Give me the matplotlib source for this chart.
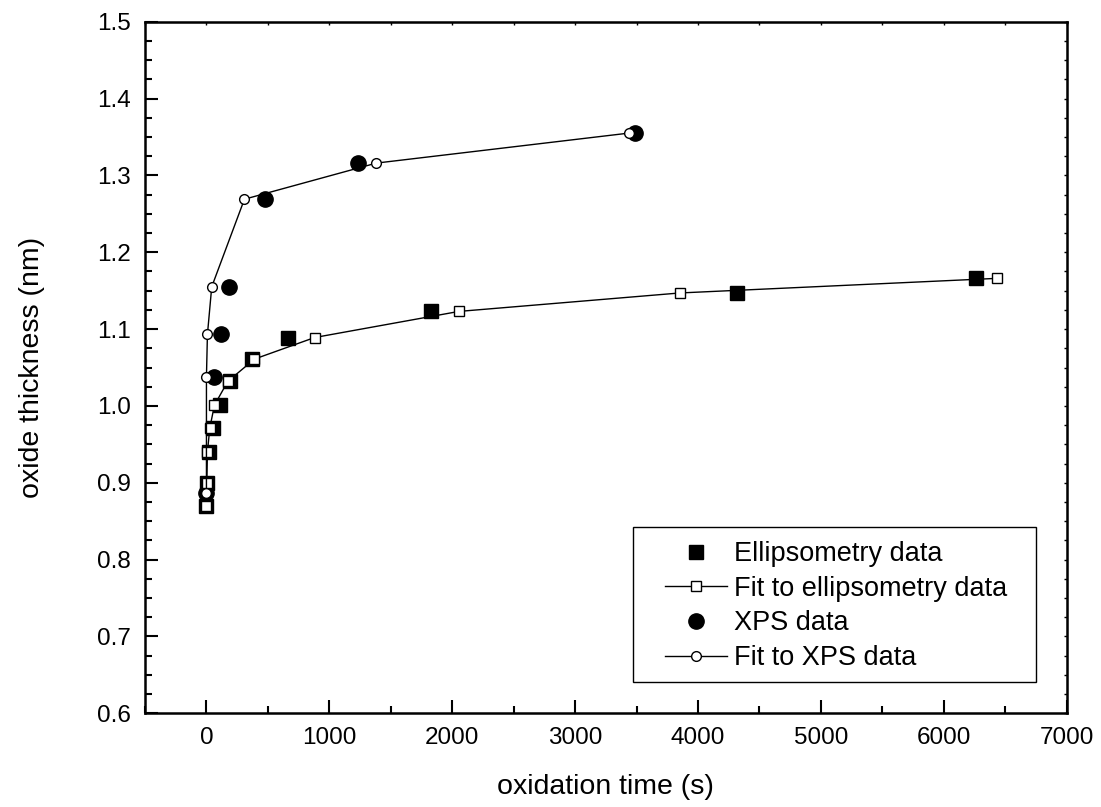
import numpy as np
import matplotlib
matplotlib.use("Agg")
from matplotlib import pyplot as plt
from matplotlib.ticker import MultipleLocator
from matplotlib.patches import Rectangle

plt.rcParams['font.family'] = ['Liberation Sans', 'DejaVu Sans']

# ellipsometry data and fit
ell_t = [0, 5, 19, 57, 111, 195, 372, 662, 1824, 4318, 6260]
ell_d = [0.870, 0.900, 0.940, 0.971, 1.001, 1.032, 1.061, 1.089, 1.123, 1.147, 1.166]
fit_ell_t = [0, 3, 8, 27, 65, 174, 391, 880, 2055, 3852, 6430]
fit_ell_d = [0.870, 0.900, 0.940, 0.971, 1.001, 1.032, 1.061, 1.089, 1.123, 1.147, 1.166]

# XPS data and fit
xps_t = [0, 65, 120, 182, 480, 1232, 3485]
xps_d = [0.887, 1.038, 1.093, 1.155, 1.269, 1.316, 1.355]
fit_xps_t = [0, 0, 8, 43, 309, 1382, 3436]
fit_xps_d = [0.887, 1.038, 1.093, 1.155, 1.269, 1.316, 1.355]

fig = plt.figure(figsize=(11.01, 8.07), dpi=100)
ax = fig.add_axes([0.1317, 0.1161, 0.9688 - 0.1317, 0.9731 - 0.1161])

ax.plot(ell_t, ell_d, ls='none', marker='s', ms=9.5, color='black',
        label='Ellipsometry data', zorder=3)
ax.plot(xps_t, xps_d, ls='none', marker='o', ms=11, color='black',
        label='XPS data', zorder=3)
ax.plot(fit_ell_t, fit_ell_d, '-', lw=1, color='black', marker='s', ms=6.5,
        mfc='white', mec='black', mew=1, label='Fit to ellipsometry data', zorder=4)
ax.plot(fit_xps_t, fit_xps_d, '-', lw=1, color='black', marker='o', ms=7,
        mfc='white', mec='black', mew=1, label='Fit to XPS data', zorder=4)

ax.set_xlim(-500, 7000)
ax.set_ylim(0.6, 1.5)
ax.xaxis.set_major_locator(MultipleLocator(1000))
ax.xaxis.set_minor_locator(MultipleLocator(500))
ax.yaxis.set_major_locator(MultipleLocator(0.1))
ax.yaxis.set_minor_locator(MultipleLocator(0.025))
ax.yaxis.set_major_formatter(plt.FormatStrFormatter('%.1f'))

for s in ax.spines.values():
    s.set_linewidth(1.8)
ax.tick_params(which='both', direction='in', width=1.5, labelsize=17.5,
               top=False, right=False, pad=10)
ax.tick_params(which='major', length=9.5)
ax.tick_params(which='minor', length=5)

# short ticks on top and right
top = ax.secondary_xaxis('top')
top.xaxis.set_major_locator(MultipleLocator(1000))
top.xaxis.set_minor_locator(MultipleLocator(500))
top.tick_params(which='both', direction='in', length=2, width=1, labeltop=False)
right = ax.secondary_yaxis('right')
right.yaxis.set_major_locator(MultipleLocator(0.1))
right.yaxis.set_minor_locator(MultipleLocator(0.025))
right.tick_params(which='both', direction='in', length=2, width=1, labelright=False)

ax.set_xlabel('oxidation time (s)', fontsize=20.5)
ax.set_ylabel('oxide thickness (nm)', fontsize=20.5)
ax.xaxis.set_label_coords(0.5, -0.088)
ax.yaxis.set_label_coords(-0.108, 0.5)

# legend without frame, frame drawn separately (wider side margins)
h, l = ax.get_legend_handles_labels()
order = [0, 2, 1, 3]
leg = ax.legend([h[i] for i in order], [l[i] for i in order],
                loc='upper left', bbox_to_anchor=(0.5642, 0.249),
                fontsize=19.5, frameon=False, handlelength=2.3,
                handletextpad=0.25, borderpad=0, labelspacing=0.32,
                borderaxespad=0)
ax.add_patch(Rectangle((0.5295, 0.045), 0.9667 - 0.5295, 0.2694 - 0.045,
                       transform=ax.transAxes, fill=True, facecolor='white',
                       edgecolor='black', lw=1, zorder=4.5))
leg.set_zorder(5)

fig.savefig('out.png', dpi=100)
